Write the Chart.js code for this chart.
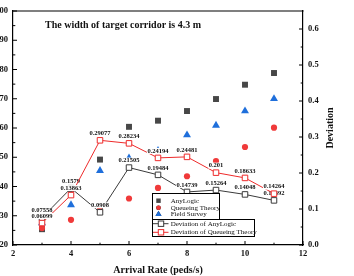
<!DOCTYPE html>
<html><head><meta charset="utf-8">
<script src="https://cdn.jsdelivr.net/npm/chart.js@4.4.1/dist/chart.umd.min.js"></script>
<style>
html,body{margin:0;padding:0;overflow:hidden;background:#fff;width:354px;height:276px;position:relative}
#wrap{position:absolute;left:-10px;top:0;width:374px;height:276px}
</style>
</head><body><div id="wrap"><canvas id="c" width="374" height="276"></canvas></div>
<script>
// ---- data ----
const arrivalRate = [3, 4, 5, 6, 7, 8, 9, 10, 11];
const anyLogic     = [25.4, 39.0, 49.2, 60.4, 62.5, 65.8, 69.9, 74.8, 78.8];
const queueing     = [25.8, 28.6, 32.1, 35.9, 39.5, 43.5, 48.7, 53.5, 60.1];
const fieldSurvey  = [27.5, 33.7, 45.4, 49.7, 52.3, 57.6, 60.9, 65.8, 70.0];
const devAnyLogic  = [0.07558, 0.1579, 0.0908, 0.21505, 0.19484, 0.14739, 0.15264, 0.14048, 0.12392];
const devQueueing  = [0.06099, 0.13863, 0.29077, 0.28234, 0.24194, 0.24481, 0.201, 0.18633, 0.14264];
const xTicks   = [2, 4, 6, 8, 10, 12];
const xMinor   = [3, 5, 7, 9, 11];
const yTicks   = [20, 30, 40, 50, 60, 70, 80, 90, 100];
const yMinor   = [25, 35, 45, 55, 65, 75, 85, 95];
const devTicks = [0.0, 0.1, 0.2, 0.3, 0.4, 0.5, 0.6];
const devMinor = [0.05, 0.15, 0.25, 0.35, 0.45, 0.55];
const titleText = 'The width of target corridor is 4.3 m';

const SERIF = '"Liberation Serif","Times New Roman",serif';
const pts = arr => arrivalRate.map((x, i) => ({x, y: arr[i]}));

const C_GRAY = '#474747', C_RED = '#f03a3a', C_BLUE = '#1f6fdb', C_DARK = '#3a3a3a', C_LRED = '#ee2a2a';

const tickPlugin = {
  id: 'inwardTicks',
  afterDraw(chart) {
    const ctx = chart.ctx, ca = chart.chartArea;
    const sx = chart.scales.x, sy = chart.scales.y, sd = chart.scales.y2;
    ctx.save();
    ctx.strokeStyle = '#000';
    ctx.lineWidth = 1.2;
    // top frame line
    ctx.beginPath(); ctx.moveTo(ca.left - 0.6, ca.top); ctx.lineTo(ca.right + 0.6, ca.top); ctx.stroke();
    ctx.lineWidth = 1;
    const h = (s, vals, len) => vals.forEach(v => { const p = s.getPixelForValue(v); ctx.beginPath(); ctx.moveTo(p, ca.bottom); ctx.lineTo(p, ca.bottom - len); ctx.stroke(); });
    const vl = (s, vals, len) => vals.forEach(v => { const p = s.getPixelForValue(v); ctx.beginPath(); ctx.moveTo(ca.left, p); ctx.lineTo(ca.left + len, p); ctx.stroke(); });
    const vr = (s, vals, len) => vals.forEach(v => { const p = s.getPixelForValue(v); ctx.beginPath(); ctx.moveTo(ca.right, p); ctx.lineTo(ca.right - len, p); ctx.stroke(); });
    h(sx, xTicks, 4); h(sx, xMinor, 2.3);
    vl(sy, yTicks, 4); vl(sy, yMinor, 2.3);
    vr(sd, devTicks, 4); vr(sd, devMinor, 2.3);
    // chart title
    ctx.fillStyle = '#111';
    ctx.font = 'bold 10px ' + SERIF;
    ctx.textAlign = 'left'; ctx.textBaseline = 'middle';
    ctx.fillText(titleText, ca.left + 32, ca.top + 14.7);
    // right axis title
    ctx.save();
    ctx.translate(ca.right + 27, (ca.top + ca.bottom) / 2);
    ctx.rotate(-Math.PI / 2);
    ctx.textAlign = 'center';
    ctx.fillText('Deviation', 0, 0);
    ctx.restore();
    // legend
    const L = ca.left + 139;
    ctx.fillStyle = '#fff';
    ctx.fillRect(L, ca.top + 182.5, 67, 26);
    ctx.fillRect(L, ca.top + 208.5, 102, 17);
    ctx.strokeStyle = '#000'; ctx.lineWidth = 1;
    ctx.strokeRect(L + 0.5, ca.top + 182.5, 67, 26);
    ctx.strokeRect(L + 0.5, ca.top + 208.5, 102, 17);
    const ds = chart.data.datasets;
    const ent = [
      {d: ds[0], y: 189.7}, {d: ds[1], y: 196.7}, {d: ds[2], y: 203.3},
    ];
    ctx.font = '7px ' + SERIF;
    ctx.textAlign = 'left'; ctx.textBaseline = 'middle';
    ent.forEach(e => {
      const y = ca.top + e.y;
      Chart.helpers.drawPoint(ctx, {pointStyle: e.d.pointStyle, radius: e.d.pointRadius * 0.75, borderWidth: 0}, L + 6.5, y);
      ctx.fillStyle = e.d.backgroundColor;
      ctx.fill();
      ctx.fillStyle = '#111';
      ctx.fillText(e.d.label, L + 18.7, y);
    });
    [{d: ds[3], y: 212.7}, {d: ds[4], y: 221.3}].forEach(e => {
      const y = ca.top + e.y;
      ctx.strokeStyle = e.d.borderColor; ctx.lineWidth = 1;
      ctx.beginPath(); ctx.moveTo(L + 1, y); ctx.lineTo(L + 16.5, y); ctx.stroke();
      ctx.fillStyle = '#fff';
      ctx.fillRect(L + 6.3, y - 2.7, 5.4, 5.4);
      ctx.strokeRect(L + 6.3, y - 2.7, 5.4, 5.4);
      ctx.fillStyle = '#111';
      ctx.fillText(e.d.label, L + 18.7, y);
    });
    ctx.restore();
  }
};

const labelPlugin = {
  id: 'valueLabels',
  afterDatasetDraw(chart, args) {
    const ds = chart.data.datasets[args.index];
    if (!ds.valueLabels) return;
    const ctx = chart.ctx;
    ctx.save();
    ctx.font = 'bold 6.5px ' + SERIF;
    ctx.textAlign = 'center'; ctx.textBaseline = 'middle';
    args.meta.data.forEach((p, i) => {
      const t = String(ds.valueLabels[i]);
      const w = ctx.measureText(t).width + 1;
      const y = p.y - 7;
      ctx.fillStyle = '#fff';
      ctx.fillRect(p.x - w / 2, y - 3, w, 6);
      ctx.fillStyle = '#111';
      ctx.fillText(t, p.x, y);
    });
    ctx.restore();
  }
};

const tickFont = {family: SERIF, size: 8.5, weight: 'bold'};
const noGrid = {display: false, drawTicks: false};

new Chart(document.getElementById('c'), {
  type: 'scatter',
  data: {
    datasets: [
      {label: 'AnyLogic', data: pts(anyLogic), yAxisID: 'y', pointStyle: 'rect', pointRadius: 4.2,
       backgroundColor: C_GRAY, borderColor: C_GRAY, borderWidth: 0, showLine: false, order: 4},
      {label: 'Queueing Theory', data: pts(queueing), yAxisID: 'y', pointStyle: 'circle', pointRadius: 3.1,
       backgroundColor: C_RED, borderColor: C_RED, borderWidth: 0, showLine: false, order: 2},
      {label: 'Field Survey', data: pts(fieldSurvey), yAxisID: 'y', pointStyle: 'triangle', pointRadius: 4.6,
       backgroundColor: C_BLUE, borderColor: C_BLUE, borderWidth: 0, showLine: false, order: 3},
      {label: 'Deviation of AnyLogic', data: pts(devAnyLogic), yAxisID: 'y2', showLine: true,
       borderColor: C_DARK, borderWidth: 1, pointStyle: 'rect', pointRadius: 3.9,
       pointBackgroundColor: '#fff', pointBorderColor: C_DARK, pointBorderWidth: 1, backgroundColor: '#fff',
       valueLabels: devAnyLogic, order: 1},
      {label: 'Deviation of Queueing Theory', data: pts(devQueueing), yAxisID: 'y2', showLine: true,
       borderColor: C_LRED, borderWidth: 1, pointStyle: 'rect', pointRadius: 3.9,
       pointBackgroundColor: '#fff', pointBorderColor: C_LRED, pointBorderWidth: 1, backgroundColor: '#fff',
       valueLabels: devQueueing, order: 0}
    ]
  },
  options: {
    responsive: false, animation: false, devicePixelRatio: 1,
    layout: {padding: {top: 11, left: 0, right: 0, bottom: 0}},
    plugins: {legend: {display: false}, tooltip: {enabled: false}},
    scales: {
      x: {type: 'linear', position: 'bottom', min: 2, max: 12,
          afterBuildTicks: s => { s.ticks = xTicks.map(v => ({value: v})); },
          afterFit: s => { s.height = 31; },
          ticks: {font: tickFont, color: '#111', padding: 4, maxRotation: 0, autoSkip: false},
          grid: noGrid, border: {display: true, color: '#000', width: 1.2},
          title: {display: true, text: 'Arrival Rate (peds/s)', color: '#111',
                  font: {family: SERIF, size: 10, weight: 'bold'}, padding: {top: 0, bottom: 0}}},
      y: {type: 'linear', position: 'left', min: 20, max: 100,
          afterBuildTicks: s => { s.ticks = yTicks.map(v => ({value: v})); },
          afterFit: s => { s.width = 23; },
          ticks: {font: tickFont, color: '#111', padding: 5, autoSkip: false},
          grid: noGrid, border: {display: true, color: '#000', width: 1.2}},
      y2: {type: 'linear', position: 'right', min: 0, max: 0.65,
          afterBuildTicks: s => { s.ticks = devTicks.map(v => ({value: v})); },
          afterFit: s => { s.width = 61; },
          ticks: {font: tickFont, color: '#111', padding: 5, autoSkip: false, callback: v => Number(v).toFixed(1)},
          grid: noGrid, border: {display: true, color: '#000', width: 1.2}}
    }
  },
  plugins: [labelPlugin, tickPlugin]
});
</script>
</body></html>
